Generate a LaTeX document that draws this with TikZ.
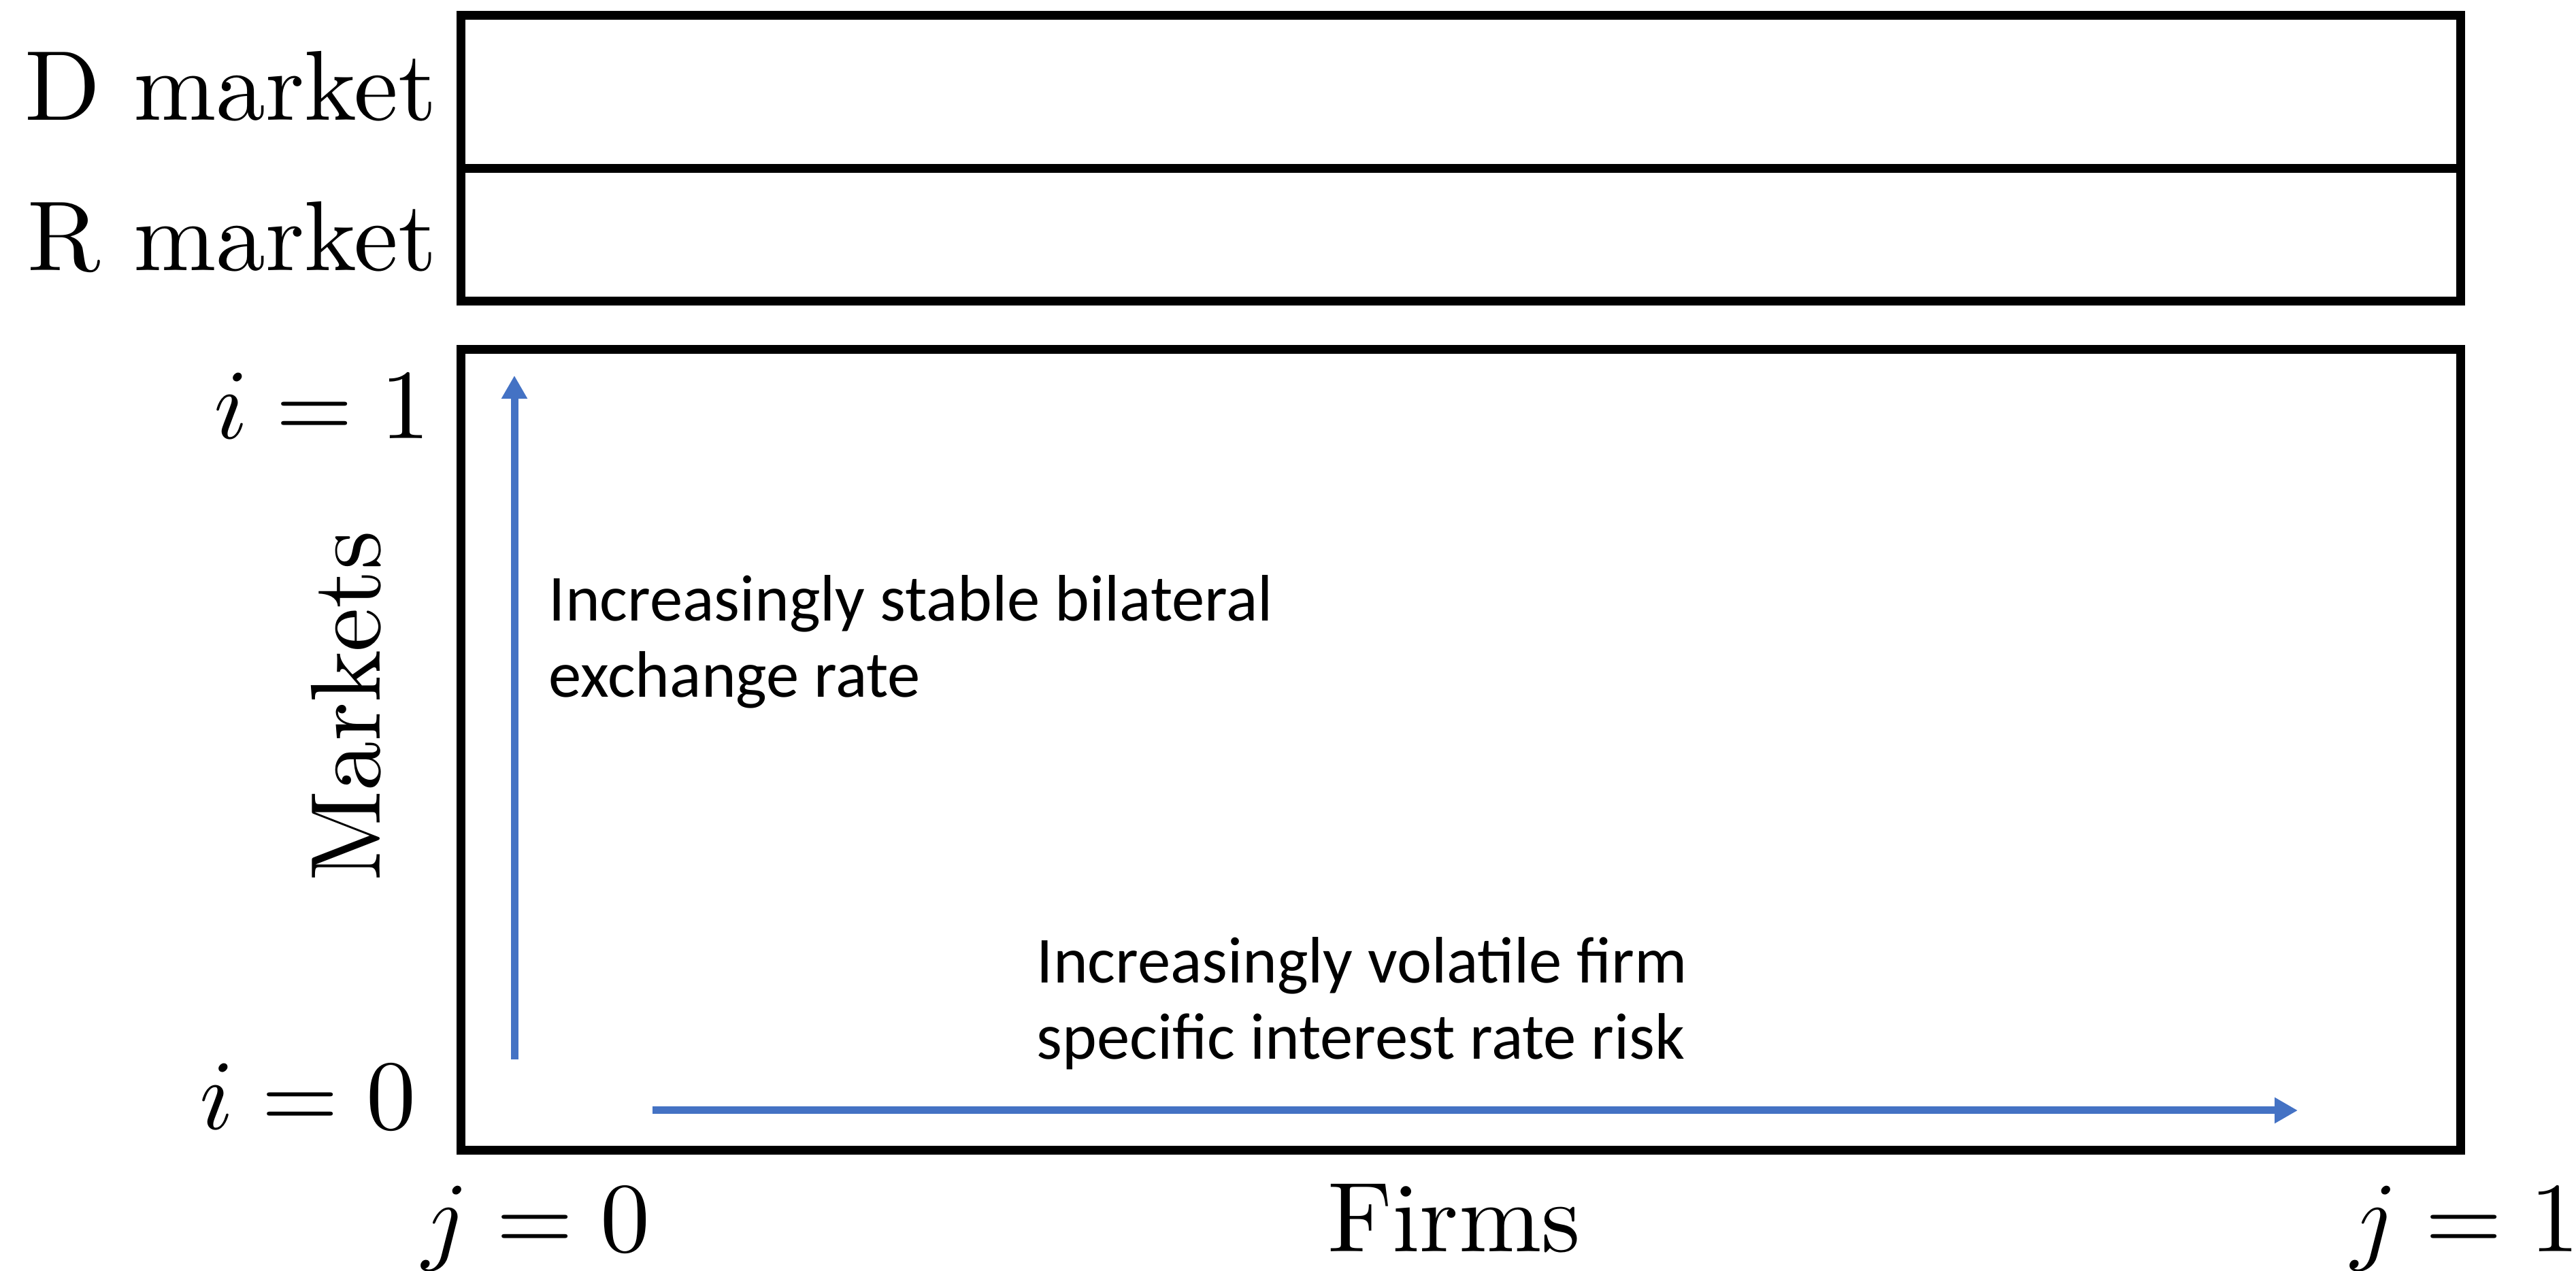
\documentclass[tikz,border=0pt]{standalone}
\usepackage{fontspec}
\newfontfamily\notefont{Carlito}
\newfontfamily\lmten{lmroman10-regular.otf}
\usepackage{amsmath}
\usetikzlibrary{arrows.meta}

% Use the 10pt designs of the math fonts at every size
\DeclareFontShape{OT1}{cmr}{m}{n}{<->cmr10}{}
\DeclareFontShape{OML}{cmm}{m}{it}{<->cmmi10}{\skewchar\font'177}
\DeclareFontShape{OMS}{cmsy}{m}{n}{<->cmsy10}{\skewchar\font'60}
\DeclareFontShape{OMX}{cmex}{m}{n}{<->cmex10}{}

\definecolor{arrowblue}{RGB}{68,114,196}

\begin{document}
\begin{tikzpicture}[
    >={Triangle[length=0.34cm, width=0.36cm]}, % Arrow tip for the blue arrows
    box/.style={draw=black, line width=0.13cm}, % Style for the frames
    flow/.style={->, draw=arrowblue, line width=0.11cm}, % Style for the blue arrows
    lbl/.style={inner sep=0pt, font=\lmten\fontsize{41.5}{50}\selectfont}, % Style for axis labels
    note/.style={inner sep=0pt, align=left, font=\notefont\fontsize{27.5}{32}\selectfont} % Style for notes
]
\useasboundingbox (0,0) rectangle (37.86,18.68);

% Market boxes (D on top of R)
\coordinate (topNW) at (6.77,18.45);
\coordinate (topSE) at (36.16,14.25);
\coordinate (midW) at (6.77,16.20);
\coordinate (midE) at (36.16,16.20);
\draw[box] (topNW) rectangle (topSE);
\draw[box] (midW) -- (midE);

% Markets by firms box
\coordinate (botNW) at (6.77,13.54);
\coordinate (botSE) at (36.16,1.77);
\draw[box] (botNW) rectangle (botSE);

% Market labels
\node[lbl, anchor=base east] (dmarket) at (6.43,16.91) {D market};
\node[lbl, anchor=base east] (rmarket) at (6.43,14.70) {R market};

% Axis labels
\node[lbl, anchor=base east] (itop) at (6.33,12.23) {$i=1$};
\node[lbl, anchor=base east] (ibot) at (6.12,2.08) {$i=0$};
\node[lbl, anchor=base, rotate=90] (markets) at (5.58,8.30) {Markets};
\node[lbl, anchor=base] (jleft) at (7.88,0.28) {$j=0$};
\node[lbl, anchor=base] (firms) at (21.37,0.28) {Firms};
\node[lbl, anchor=base east] (jright) at (37.92,0.28) {$j=1$};

% Blue arrows
\coordinate (vstart) at (7.56,3.11);
\coordinate (vtip) at (7.56,13.16);
\coordinate (hstart) at (9.59,2.36);
\coordinate (htip) at (33.77,2.36);
\draw[flow] (vstart) -- (vtip);
\draw[flow] (hstart) -- (htip);

% Notes next to the arrows (base = last line)
\node[note, anchor=base west] (stable) at (8.06,8.43) {Increasingly stable bilateral\\exchange rate};
\node[note, anchor=base west] (volatile) at (15.23,3.11) {Increasingly volatile firm\\specific interest rate risk};

\end{tikzpicture}
\end{document}
